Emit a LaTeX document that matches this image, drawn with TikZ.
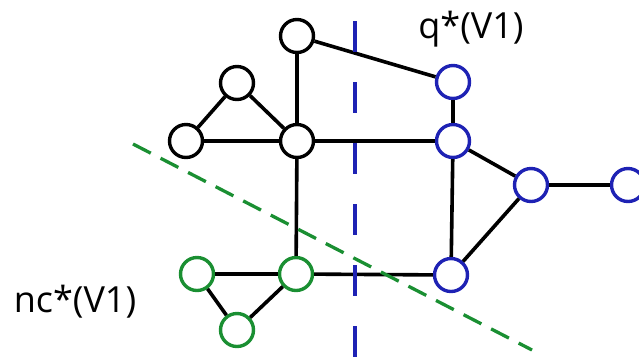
\documentclass[tikz,border=0pt]{standalone}
\usepackage{fontspec}
\setmainfont{Open Sans}
\definecolor{vblue}{RGB}{30,34,180}
\definecolor{vgreen}{RGB}{26,143,50}
\begin{document}
\begin{tikzpicture}[x=1pt,y=-1pt,
  vtx/.style={circle,draw,line width=3.4pt,fill=white,minimum size=33pt,inner sep=0pt},
  bv/.style={vtx,draw=vblue},
  gv/.style={vtx,draw=vgreen},
  kv/.style={vtx,draw=black},
  edge/.style={line width=3.6pt,black},
  lbl/.style={font=\fontsize{36}{40}\selectfont,inner sep=0pt,anchor=base}]
\clip (0,0) rectangle (639,360);
\useasboundingbox (0,0) rectangle (639,360);
% vertices
\node[kv] (t)  at (297,36) {};
\node[kv] (a)  at (237,83) {};
\node[kv] (l)  at (186,141) {};
\node[kv] (c)  at (297,141) {};
\node[bv] (b1) at (453,82) {};
\node[bv] (b2) at (453,141) {};
\node[bv] (b3) at (531,185) {};
\node[bv] (b4) at (628,185) {};
\node[bv] (b5) at (451,275) {};
\node[gv] (g1) at (197,274) {};
\node[gv] (g2) at (296,274) {};
\node[gv] (g3) at (237,330) {};
% edges
\draw[edge] (t) -- (c);
\draw[edge] (t) -- (b1);
\draw[edge] (a) -- (l);
\draw[edge] (a) -- (c);
\draw[edge] (l) -- (c);
\draw[edge] (c) -- (b2);
\draw[edge] (c) -- (g2);
\draw[edge] (b1) -- (b2);
\draw[edge] (b2) -- (b3);
\draw[edge] (b3) -- (b4);
\draw[edge] (b2) -- (b5);
\draw[edge] (b3) -- (b5);
\draw[edge] (g1) -- (g2);
\draw[edge] (g2) -- (b5);
\draw[edge] (g1) -- (g3);
\draw[edge] (g2) -- (g3);
% cut lines
\coordinate (q0) at (355,21);
\coordinate (q1) at (355,360);
\draw[vblue,line width=3.3pt,dash pattern=on 31pt off 30pt] (q0) -- (q1);
\coordinate (n0) at (133,144);
\coordinate (n1) at (532,350);
\draw[vgreen,line width=3.3pt,dash pattern=on 20pt off 11pt] (n0) -- (n1);
% labels
\node[lbl] (lq) at (471,38) {q*(V1)};
\node[lbl] (ln) at (75,312) {nc*(V1)};
\end{tikzpicture}
\end{document}
